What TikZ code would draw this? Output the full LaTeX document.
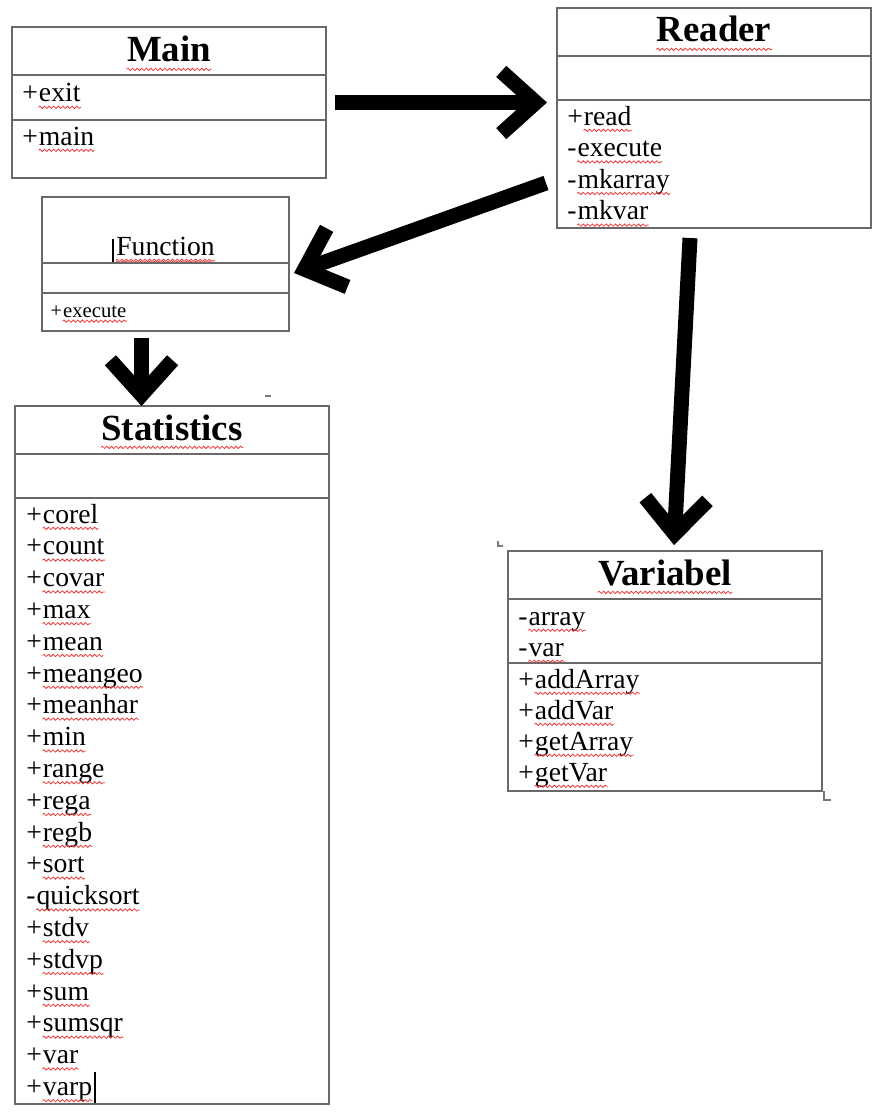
\documentclass[tikz,border=0pt]{standalone}
\usepackage{fontspec}
\setmainfont{Liberation Serif}
\usetikzlibrary{arrows.meta, calc, decorations.pathmorphing}

\definecolor{spellred}{RGB}{235,60,60}
\definecolor{boxgray}{RGB}{105,105,105}
\definecolor{markgray}{RGB}{120,120,120}

% one pixel of the original screenshot
\newdimen\pxu \pxu=0.434pt

\begin{document}
\begin{tikzpicture}[x=\pxu, y=-\pxu,
        % styles for the class boxes
        classbox/.style={draw=boxgray, line width=0.8pt, inner sep=0pt, outer sep=0pt, anchor=north west},
        sepline/.style={draw=boxgray, line width=0.8pt},
        title/.style={anchor=base, inner sep=0pt, font=\fontsize{16}{19}\selectfont\bfseries, spelled=3.2pt},
        member/.style={anchor=base west, inner sep=0pt, font=\fontsize{12}{14}\selectfont},
        squiggle/.style={draw=spellred, line width=0.35pt, decorate, decoration={snake, amplitude=0.5pt, segment length=2pt}},
        spelled/.style={append after command={([yshift=-#1]\tikzlastnode.base west) edge[squiggle] ([yshift=-#1]\tikzlastnode.base east)}},
        spelled/.default=2.3pt,
        bigarrow/.style={line width=6.5pt, -{Straight Barb[length=15pt, width=27pt]}},
        textmark/.style={draw=markgray, line width=0.6pt}
    ]
        \useasboundingbox (0,0) rectangle (881,1112);

        % --------------------------------------------------------
        % Main
        % --------------------------------------------------------
        \node[classbox, minimum width={314*\pxu}, minimum height={151*\pxu}] (main) at (12,27) {};
        \node[title] (main-title) at ($(main.north)+(0,35)$) {Main};
        \draw[sepline] ($(main.north west)+(0,48)$) -- ($(main.north east)+(0,48)$);
        \draw[sepline] ($(main.north west)+(0,93)$) -- ($(main.north east)+(0,93)$);
        \node[member] (main-exit-sign) at ($(main.north west)+(10,75)$) {+};
        \node[member, spelled] (main-exit) at (main-exit-sign.base east) {exit};
        \node[member] (main-main-sign) at ($(main.north west)+(10,118)$) {+};
        \node[member, spelled] (main-main) at (main-main-sign.base east) {main};

        % --------------------------------------------------------
        % Reader
        % --------------------------------------------------------
        \node[classbox, minimum width={314*\pxu}, minimum height={220*\pxu}] (reader) at (557,8) {};
        \node[title] (reader-title) at ($(reader.north)+(0,34)$) {Reader};
        \draw[sepline] ($(reader.north west)+(0,48)$) -- ($(reader.north east)+(0,48)$);
        \draw[sepline] ($(reader.north west)+(0,92)$) -- ($(reader.north east)+(0,92)$);
        \foreach \s/\m [count=\i from 0] in {+/read, -/execute, -/mkarray, -/mkvar} {
            \node[member] (reader-\m-sign) at ($(reader.north west)+(10,{117+31.6*\i})$) {\s};
            \node[member, spelled] (reader-\m) at (reader-\m-sign.base east) {\m};
        }

        % --------------------------------------------------------
        % Function
        % --------------------------------------------------------
        \node[classbox, minimum width={247*\pxu}, minimum height={134*\pxu}] (function) at (42,197) {};
        \node[title, font=\fontsize{12}{14}\selectfont, spelled=2.3pt] (function-title) at ($(function.north)+(0,58)$) {Function};
        \draw[sepline] ($(function.north west)+(0,66)$) -- ($(function.north east)+(0,66)$);
        \draw[sepline] ($(function.north west)+(0,96)$) -- ($(function.north east)+(0,96)$);
        \node[member, font=\fontsize{9}{11}\selectfont] (function-execute-sign) at ($(function.north west)+(8,120)$) {+};
        \node[member, spelled=1.8pt, font=\fontsize{9}{11}\selectfont] (function-execute) at (function-execute-sign.base east) {execute};
        \draw[line width=0.9pt] ($(function-title.base west)+(-3,-16)$) -- ($(function-title.base west)+(-3,7)$);

        % --------------------------------------------------------
        % Statistics
        % --------------------------------------------------------
        \node[classbox, minimum width={314*\pxu}, minimum height={698*\pxu}] (stats) at (15,406) {};
        \node[title] (stats-title) at ($(stats.north)+(0,34)$) {Statistics};
        \draw[sepline] ($(stats.north west)+(0,48)$) -- ($(stats.north east)+(0,48)$);
        \draw[sepline] ($(stats.north west)+(0,92)$) -- ($(stats.north east)+(0,92)$);
        \foreach \s/\m [count=\i from 0] in {+/corel, +/count, +/covar, +/max, +/mean, +/meangeo,
                +/meanhar, +/min, +/range, +/rega, +/regb, +/sort, -/quicksort, +/stdv,
                +/stdvp, +/sum, +/sumsqr, +/var, +/varp} {
            \node[member] (stats-\m-sign) at ($(stats.north west)+(11,{117+31.8*\i})$) {\s};
            \node[member, spelled] (stats-\m) at (stats-\m-sign.base east) {\m};
        }
        \draw[line width=0.9pt] ($(stats-varp.base east)+(2,-23)$) -- ($(stats-varp.base east)+(2,8)$);

        % --------------------------------------------------------
        % Variabel
        % --------------------------------------------------------
        \node[classbox, minimum width={314*\pxu}, minimum height={240*\pxu}] (variabel) at (508,551) {};
        \node[title] (variabel-title) at ($(variabel.north)+(0,34)$) {Variabel};
        \draw[sepline] ($(variabel.north west)+(0,48)$) -- ($(variabel.north east)+(0,48)$);
        \draw[sepline] ($(variabel.north west)+(0,112)$) -- ($(variabel.north east)+(0,112)$);
        \foreach \s/\m [count=\i from 0] in {-/array, -/var} {
            \node[member] (variabel-\m-sign) at ($(variabel.north west)+(10,{74+31*\i})$) {\s};
            \node[member, spelled] (variabel-\m) at (variabel-\m-sign.base east) {\m};
        }
        \foreach \s/\m [count=\i from 0] in {+/addArray, +/addVar, +/getArray, +/getVar} {
            \node[member] (variabel-\m-sign) at ($(variabel.north west)+(10,{137+31*\i})$) {\s};
            \node[member, spelled] (variabel-\m) at (variabel-\m-sign.base east) {\m};
        }

        % text boundary marks
        \draw[textmark] ($(variabel.north west)+(-10,-10)$) -- ($(variabel.north west)+(-10,-5)$) -- ($(variabel.north west)+(-5,-5)$);
        \draw[textmark] ($(variabel.south east)+(2,0)$) -- ($(variabel.south east)+(2,9)$) -- ($(variabel.south east)+(9,9)$);
        \draw[textmark] ($(stats.north)+(93,-10)$) -- ($(stats.north)+(99,-10)$);

        % --------------------------------------------------------
        % Arrows
        % --------------------------------------------------------
        \draw[bigarrow] ($(main.east)+(9,0)$) -- ($(main.east -| reader.west)+(-10,0)$);
        \draw[bigarrow] ($(reader.south west)+(-11,-45)$) -- ($(function.east)+(5,9)$);
        \draw[bigarrow] ($(function.south)+(-24,7)$) -- ($(function.south |- stats.north)+(-24,0)$);
        \draw[bigarrow] ($(reader.south)+(-24,10)$) -- ($(variabel.north)+(9,-6)$);

    \end{tikzpicture}
\end{document}
